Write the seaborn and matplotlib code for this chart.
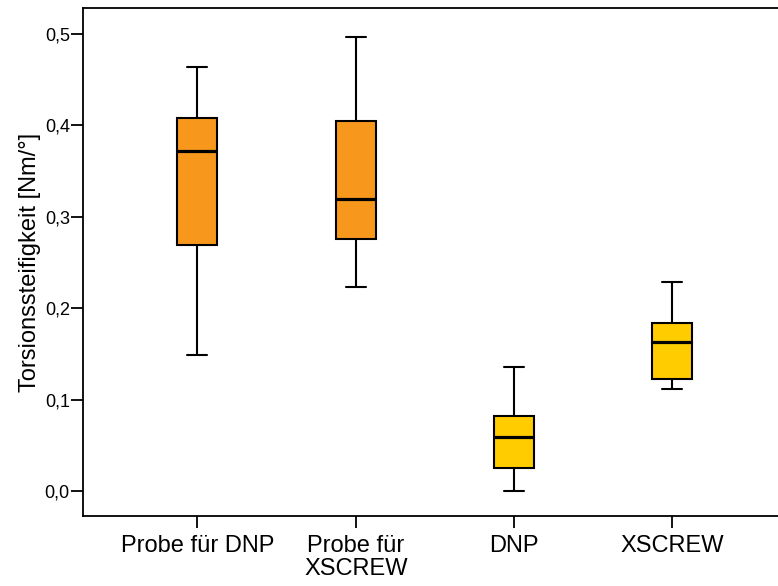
import numpy as np
import pandas as pd
import matplotlib
matplotlib.use("Agg")
import matplotlib.pyplot as plt
import seaborn as sns

categories = ["Probe für DNP", "Probe für\nXSCREW", "DNP", "XSCREW"]
mins = [0.149, 0.223, 0.000, 0.111]
q1s = [0.269, 0.275, 0.025, 0.123]
medians = [0.372, 0.319, 0.059, 0.163]
q3s = [0.408, 0.405, 0.082, 0.184]
maxs = [0.464, 0.496, 0.136, 0.229]
colors = ["#F7981D", "#F7981D", "#FFCC00", "#FFCC00"]
yticks = [0.0, 0.1, 0.2, 0.3, 0.4, 0.5]
ytick_labels = ["0,0", "0,1", "0,2", "0,3", "0,4", "0,5"]
ylabel = "Torsionssteifigkeit [Nm/°]"

rows = []
for c, a, b, m, d, e in zip(categories, mins, q1s, medians, q3s, maxs):
    for v in (a, b, m, d, e):
        rows.append({"Gruppe": c, "Wert": v})
df = pd.DataFrame(rows)

sns.set_style("ticks")
plt.rcParams["font.family"] = ["Liberation Sans", "DejaVu Sans"]
plt.rcParams["text.color"] = "black"
plt.rcParams["axes.labelcolor"] = "black"
plt.rcParams["xtick.color"] = "black"
plt.rcParams["ytick.color"] = "black"

fig = plt.figure(figsize=(7.78, 5.86), dpi=100)
ax = fig.add_axes([83 / 778, 1 - 516 / 586, 1 - 83 / 778, (516 - 8) / 586])

sns.boxplot(
    data=df, x="Gruppe", y="Wert", hue="Gruppe", order=categories,
    hue_order=categories, palette=dict(zip(categories, colors)),
    whis=(0, 100), width=0.253, linewidth=1.5, linecolor="black",
    showfliers=False, legend=False, saturation=1, ax=ax,
    medianprops=dict(linewidth=2.3, color="black"),
)

ax.set_xlim(-0.723, 3.667)
ax.set_ylim(-0.0273, 0.528)
ax.set_yticks(yticks)
ax.set_yticklabels(ytick_labels, fontsize=13, color="black")
ax.set_xticks(range(len(categories)))
ax.set_xticklabels(categories, fontsize=17, linespacing=1.05, color="black")
ax.set_xlabel("")
ax.set_ylabel(ylabel, fontsize=17, labelpad=3, color="black")

for s in ["left", "bottom", "top"]:
    ax.spines[s].set_visible(True)
    ax.spines[s].set_linewidth(1.3)
    ax.spines[s].set_color("black")
ax.spines["right"].set_visible(False)
ax.tick_params(axis="both", direction="out", length=8.5, width=1.3, color="black")
ax.tick_params(axis="y", pad=1)
ax.tick_params(axis="x", pad=5)

fig.savefig("out.png", dpi=100)
